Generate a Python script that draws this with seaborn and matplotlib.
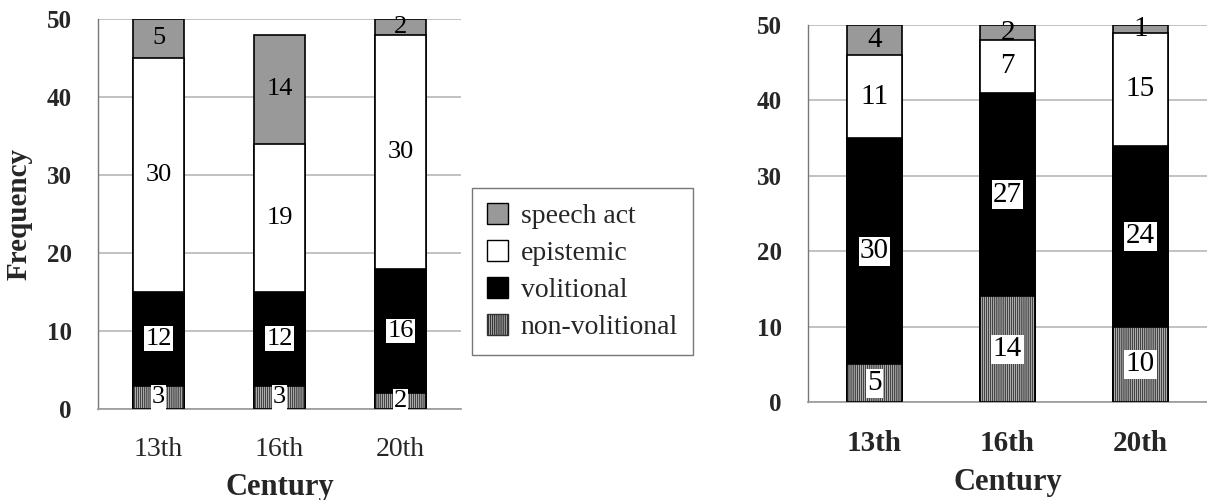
import numpy as np
import seaborn as sns
from matplotlib import pyplot as plt
from matplotlib.patches import Patch
from matplotlib.ticker import FixedLocator

centuries = ["13th", "16th", "20th"]
categories = ["non-volitional", "volitional", "epistemic", "speech act"]

# left panel
left_nonvol = [3, 3, 2]
left_vol = [12, 12, 16]
left_epi = [30, 19, 30]
left_speech = [5, 14, 2]

# right panel
right_nonvol = [5, 14, 10]
right_vol = [30, 27, 24]
right_epi = [11, 7, 15]
right_speech = [4, 2, 1]

SPEECH_GREY = "#999999"
HATCH = "|" * 8

sns.set_style("white")
plt.rcParams["font.family"] = ["Liberation Serif", "DejaVu Serif"]
plt.rcParams["hatch.linewidth"] = 1.1


def draw_panel(ax, series, width, tick_size, tick_weight, label_size):
    nonvol, vol, epi, speech = [np.array(s) for s in series]
    tops = [nonvol, nonvol + vol, nonvol + vol + epi, nonvol + vol + epi + speech]
    colors = ["white", "black", "white", SPEECH_GREY]

    # tallest first so the lower segments sit on top of it
    for top, color in zip(tops[::-1], colors[::-1]):
        sns.barplot(
            ax=ax, x=centuries, y=top, color=color, width=width,
            saturation=1, edgecolor="black", linewidth=1.2, zorder=2,
        )
    # hatched bottom segment, then its black outline
    sns.barplot(
        ax=ax, x=centuries, y=tops[0], color="white", width=width,
        saturation=1, edgecolor="#444444", linewidth=0, hatch=HATCH, zorder=3,
    )
    sns.barplot(
        ax=ax, x=centuries, y=tops[0], fill=False, width=width,
        edgecolor="black", linewidth=1.2, zorder=4,
    )

    # segment labels
    bottoms = [np.zeros(3)] + tops[:-1]
    for k, (vals, bot) in enumerate(zip([nonvol, vol, epi, speech], bottoms)):
        for i, v in enumerate(vals):
            box = None
            if k < 2:
                box = dict(facecolor="white", edgecolor="none", pad=1.0)
            ax.text(i, bot[i] + v / 2, str(v), ha="center", va="center",
                    fontsize=label_size, color="black", bbox=box, zorder=5)

    ax.set_xlim(-0.5, 2.5)
    ax.set_ylim(0, 50)
    ax.set_yticks(range(0, 51, 10))
    ax.yaxis.grid(True, color="#b8b8b8", linewidth=1.2, zorder=0)
    ax.set_axisbelow(True)
    for side in ["top", "right"]:
        ax.spines[side].set_visible(False)
    ax.spines["left"].set_color("#777777")
    ax.spines["bottom"].set_color("#999999")
    ax.spines["left"].set_linewidth(1)
    ax.spines["bottom"].set_linewidth(1.2)
    ax.tick_params(axis="x", which="major", length=0, pad=20,
                   labelsize=tick_size)
    ax.xaxis.set_minor_locator(FixedLocator([0.5, 1.5, 2.5]))
    ax.tick_params(axis="x", which="minor", length=8, width=1, color="#555555",
                   direction="out")
    ax.tick_params(axis="y", length=7, width=1, color="#999999", pad=12,
                   labelsize=18)
    for lbl in ax.get_yticklabels():
        lbl.set_fontweight("bold")
    for lbl in ax.get_xticklabels():
        lbl.set_fontweight(tick_weight)
    ax.set_xlabel("Century", fontsize=22, fontweight="bold", labelpad=8)


fig = plt.figure(figsize=(12.07, 5.0), dpi=100)
ax_left = fig.add_axes([98 / 1207, 1 - 409 / 500, (461 - 98) / 1207, (409 - 19) / 500])
ax_right = fig.add_axes([808 / 1207, 1 - 402 / 500, (1207 - 808) / 1207, (402 - 25) / 500])

draw_panel(ax_left, [left_nonvol, left_vol, left_epi, left_speech],
           width=0.42, tick_size=20, tick_weight="normal", label_size=19)
draw_panel(ax_right, [right_nonvol, right_vol, right_epi, right_speech],
           width=0.42, tick_size=21, tick_weight="bold", label_size=21)

ax_left.set_ylabel("Frequency", fontsize=21, fontweight="bold", labelpad=10)
ax_right.set_ylabel("")

handles = [
    Patch(facecolor=SPEECH_GREY, edgecolor="black", label="speech act"),
    Patch(facecolor="white", edgecolor="black", label="epistemic"),
    Patch(facecolor="black", edgecolor="black", label="volitional"),
    Patch(facecolor="white", edgecolor="#333333", hatch=HATCH, label="non-volitional"),
]
leg = fig.legend(
    handles=handles, loc="upper left", bbox_to_anchor=(472 / 1207, 1 - 188 / 500),
    fontsize=20, frameon=True, fancybox=False, edgecolor="#555555",
    handlelength=0.75, handleheight=0.75, handletextpad=0.45, labelspacing=0.4,
    borderpad=0.55, borderaxespad=0,
)
leg.get_frame().set_linewidth(1)

plt.savefig("out.png", dpi=100)
